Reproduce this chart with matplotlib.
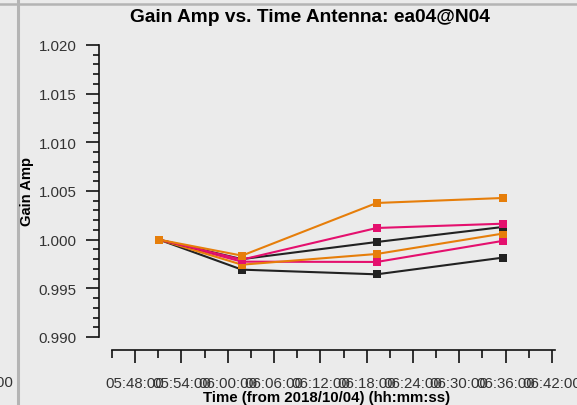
import matplotlib
matplotlib.use("Agg")
import matplotlib.pyplot as plt
import matplotlib.dates as mdates
from matplotlib.ticker import MultipleLocator
from datetime import datetime

plt.rcParams['font.family'] = ['Liberation Sans', 'DejaVu Sans']

# solution times and normalized gain amplitudes per correlation/spw
times = ["05:51:06", "06:01:50", "06:19:18", "06:35:36"]
orange_a = [1.0000, 0.99836, 1.00377, 1.00428]
pink_a = [1.0000, 0.99795, 1.00120, 1.00164]
black_a = [1.0000, 0.99800, 0.99976, 1.00130]
orange_b = [1.0000, 0.99743, 0.99853, 1.00062]
pink_b = [1.0000, 0.99774, 0.99771, 0.99987]
black_b = [1.0000, 0.99692, 0.99644, 0.99815]

ORANGE = '#e67e0a'
PINK = '#e4106e'
BLACK = '#222222'
BG = '#ebebeb'

t = [datetime.strptime("2018-10-04 " + s, "%Y-%m-%d %H:%M:%S") for s in times]

W, H = 577, 406
fig = plt.figure(figsize=(W / 100, H / 100), dpi=100, facecolor=BG)
ax = fig.add_axes([112 / W, 1 - 338 / H, (555 - 112) / W, (338 - 46) / H])
ax.set_facecolor(BG)

series = [(black_b, BLACK), (pink_b, PINK), (orange_b, ORANGE),
          (black_a, BLACK), (pink_a, PINK), (orange_a, ORANGE)]
for vals, c in series:
    ax.plot(t, vals, '-', color=c, lw=1.5, marker='s', ms=5.5, mew=0, zorder=3)

ax.set_ylim(0.990, 1.020)
ax.set_xlim(datetime(2018, 10, 4, 5, 45, 0), datetime(2018, 10, 4, 6, 42, 24))

# axis lines set apart from the data area, plotms style
for s in ['top', 'right']:
    ax.spines[s].set_visible(False)
for s in ['left', 'bottom']:
    ax.spines[s].set_position(('outward', 9.4))
    ax.spines[s].set_linewidth(1.2)
    ax.spines[s].set_color('#111111')
ax.spines['left'].set_bounds(0.990, 1.020)

ax.yaxis.set_major_locator(MultipleLocator(0.005))
ax.yaxis.set_minor_locator(MultipleLocator(0.001))
ax.yaxis.set_major_formatter(matplotlib.ticker.FormatStrFormatter('%.3f'))
ax.xaxis.set_major_locator(mdates.MinuteLocator(byminute=range(0, 60, 6)))
ax.xaxis.set_minor_locator(mdates.MinuteLocator(byminute=range(3, 60, 6)))
ax.xaxis.set_major_formatter(mdates.DateFormatter('%H:%M:%S'))

ax.tick_params(axis='both', which='major', direction='out', length=9.4,
               width=1.2, color='#111111', labelsize=10.8, labelcolor='#333333')
ax.tick_params(axis='both', which='minor', direction='out', length=4.6,
               width=1.2, color='#111111')
ax.tick_params(axis='y', which='major', pad=6.5)
ax.tick_params(axis='x', which='major', pad=9.5)
ax.tick_params(axis='x', which='minor', length=5.8)

fig.text(310 / W, 1 - 17 / H, 'Gain Amp vs. Time Antenna: ea04@N04',
         ha='center', va='center', fontsize=13.8, fontweight='bold')
fig.text(327 / W, 1 - 398 / H, 'Time (from 2018/10/04) (hh:mm:ss)',
         ha='center', va='center', fontsize=10.8, fontweight='bold')
fig.text(27 / W, 1 - 192 / H, 'Gain Amp', rotation=90,
         ha='center', va='center', fontsize=10.6, fontweight='bold')

# panel separators and the neighbouring panel's edge
fig.add_artist(plt.Line2D([18 / W, 18 / W], [0, 1], color='#b4b4b4', lw=2.2))
fig.add_artist(plt.Line2D([0, 1], [1 - 4.5 / H, 1 - 4.5 / H], color='#b4b4b4', lw=1.8))
fig.text(13 / W, 1 - 383 / H, '06:42:00', ha='right', va='center',
         fontsize=10.8, color='#333333')

fig.savefig('out.png', dpi=100, facecolor=BG)
